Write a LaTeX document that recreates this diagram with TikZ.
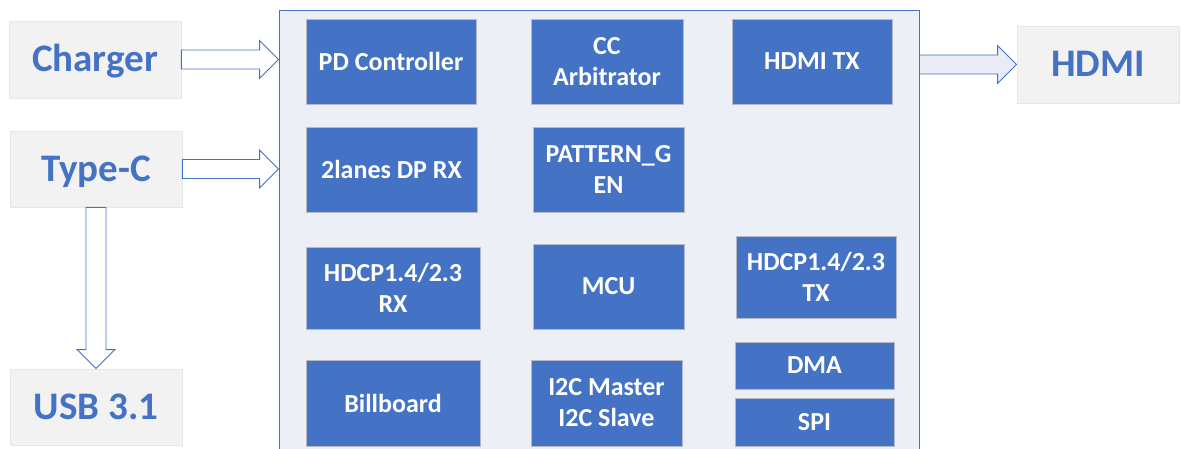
\documentclass[tikz,border=0pt]{standalone}
\usepackage{fontspec}
\setmainfont{Carlito}
\usetikzlibrary{calc}
\definecolor{blk}{HTML}{4472C4}
\definecolor{blkedge}{HTML}{B4B9C4}
\definecolor{outfill}{HTML}{F2F2F2}
\definecolor{outedge}{HTML}{E4E6EE}
\definecolor{chipfill}{HTML}{EDEFF7}
\definecolor{harrowfill}{HTML}{E9EBF5}
\tikzset{
  blockbox/.style={draw=blkedge, line width=0.8pt, fill=blk, text=white,
    font=\bfseries\fontsize{26}{31}\selectfont, align=center, inner sep=0pt},
  extbox/.style={draw=outedge, line width=0.8pt, fill=outfill, text=blk,
    font=\bfseries\fontsize{39}{46}\selectfont, inner sep=0pt,
    text height=25pt, text depth=0pt},
  fatarrow/.style={draw=blk, line width=0.9pt, fill=white, line join=miter},
}
\newcommand\hfat[3][]{%
  \draw[fatarrow,#1] let \p1=(#2), \p2=(#3) in
    (\x1,\y1+9.5pt) -- (\x2-19pt,\y1+9.5pt) -- (\x2-19pt,\y1+19pt) -- (\x2,\y1)
    -- (\x2-19pt,\y1-19pt) -- (\x2-19pt,\y1-9.5pt) -- (\x1,\y1-9.5pt) -- cycle;}
\newcommand\vfat[3][]{%
  \draw[fatarrow,#1] let \p1=(#2), \p2=(#3) in
    (\x1-10pt,\y1) -- (\x1-10pt,\y2+19pt) -- (\x1-19pt,\y2+19pt) -- (\x1,\y2)
    -- (\x1+19pt,\y2+19pt) -- (\x1+10pt,\y2+19pt) -- (\x1+10pt,\y1) -- cycle;}
\begin{document}
\begin{tikzpicture}[x=1pt,y=-1pt]
\useasboundingbox (0,0) rectangle (1181,449);
\fill[white] (0,0) rectangle (1181,449);
% chip outline
\node[draw=blk, fill=chipfill, line width=0.9pt, inner sep=0pt,
      minimum width=640pt, minimum height=445pt] (chip) at (599,232.5) {};
% external boxes
\node[extbox, minimum width=172pt, minimum height=77pt] (charger) at (95,59.5) {Charger};
\node[extbox, minimum width=172pt, minimum height=76pt] (typec) at (96,169) {Type-C};
\node[extbox, minimum width=172pt, minimum height=76pt] (usb) at (96,407) {USB 3.1};
\node[extbox, minimum width=162pt, minimum height=77pt] (hdmi) at (1098,64.5) {HDMI};
% internal blocks
\node[blockbox, minimum width=170pt, minimum height=85pt] (pd) at (391,61.5) {PD Controller};
\node[blockbox, minimum width=152pt, minimum height=85pt] (cc) at (607,61.5) {CC\\Arbitrator};
\node[blockbox, minimum width=160pt, minimum height=85pt] (hdmitx) at (812,61.5) {HDMI TX};
\node[blockbox, minimum width=171pt, minimum height=85pt] (dprx) at (391.5,169.5) {2lanes DP RX};
\node[blockbox, minimum width=151pt, minimum height=85pt] (pat) at (608.5,169.5) {PATTERN\_G\\EN};
\node[blockbox, minimum width=174pt, minimum height=82pt] (hdcprx) at (393,288) {HDCP1.4/2.3\\RX};
\node[blockbox, minimum width=151pt, minimum height=85pt] (mcu) at (608.5,286.5) {MCU};
\node[blockbox, minimum width=160pt, minimum height=82pt] (hdcptx) at (816,277) {HDCP1.4/2.3\\TX};
\node[blockbox, minimum width=174pt, minimum height=86pt] (bill) at (393,403) {Billboard};
\node[blockbox, minimum width=151pt, minimum height=86pt] (i2c) at (606.5,403) {I2C Master\\I2C Slave};
\node[blockbox, minimum width=159pt, minimum height=47pt] (dma) at (814.5,365.5) {DMA};
\node[blockbox, minimum width=159pt, minimum height=48pt] (spi) at (814.5,422) {SPI};
% block arrows
\hfat{charger.east}{chip.west |- charger.east}
\hfat{typec.east}{chip.west |- typec.east}
\hfat[fill=harrowfill]{chip.east |- hdmi.west}{hdmi.west}
\vfat{typec.south}{usb.north}
\end{tikzpicture}
\end{document}
